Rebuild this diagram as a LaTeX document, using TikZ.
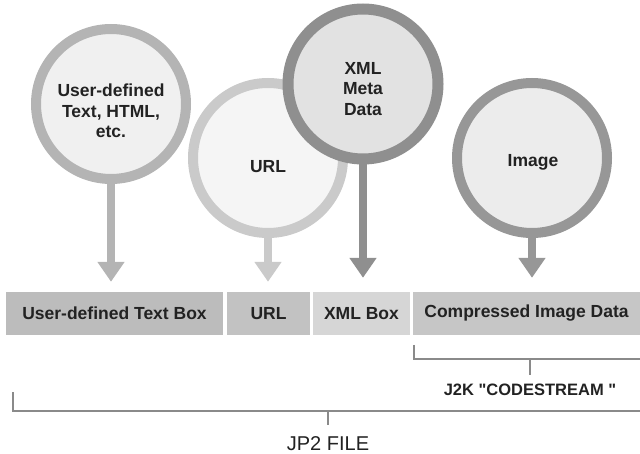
\documentclass[tikz,border=0pt]{standalone}
\usepackage{fontspec}
\setmainfont{Liberation Sans}
\newfontfamily\plainfont{Liberation Sans}
\usetikzlibrary{arrows.meta}
\definecolor{ringA}{HTML}{B4B4B4}
\definecolor{fillA}{HTML}{F0F0F0}
\definecolor{ringB}{HTML}{CACACA}
\definecolor{fillB}{HTML}{F5F5F5}
\definecolor{ringC}{HTML}{8F8F8F}
\definecolor{fillC}{HTML}{E2E2E2}
\definecolor{ringD}{HTML}{979797}
\definecolor{fillD}{HTML}{ECECEC}
\definecolor{boxA}{HTML}{BCBCBC}
\definecolor{boxB}{HTML}{C2C2C2}
\definecolor{boxC}{HTML}{D6D6D6}
\definecolor{boxD}{HTML}{C6C6C6}
\definecolor{txt}{HTML}{222222}
\definecolor{brk}{HTML}{8A8A8A}
\tikzset{
  bubble/.style={circle, line width=10pt, minimum size=150pt, inner sep=0pt},
  bubtext/.style={align=center, text=txt, inner sep=0pt,
    font=\fontsize{17.5}{20.5}\selectfont\bfseries},
  segbox/.style={rectangle, minimum height=43pt, inner sep=0pt, text=txt,
    font=\fontsize{17.5}{20}\selectfont\bfseries},
  stem/.style={line width=8pt, -{Triangle[width=26pt,length=20pt]}},
  bracket/.style={brk, line width=1.5pt},
  lbl/.style={text=txt, inner sep=0pt}
}
\begin{document}
\begin{tikzpicture}[x=1pt,y=-1pt]
\useasboundingbox (0,0) rectangle (640,454);
% boxes
\node[segbox, fill=boxA, minimum width=217pt] (b1) at (114.5,313.5) {User-defined Text Box};
\node[segbox, fill=boxB, minimum width=83pt] (b2) at (268.5,313.5) {URL};
\node[segbox, fill=boxC, minimum width=97pt] (b3) at (361.5,313.5) {XML Box};
\node[segbox, fill=boxD, minimum width=227pt] (b4) at (526.5,313.5) {Compressed Image Data};
% circles
\node[bubble, draw=ringA, fill=fillA] (c1) at (111,104) {};
\node[bubtext] (t1) at (111,111) {User-defined\\Text, HTML,\\etc.};
\node[bubble, draw=ringB, fill=fillB] (c2) at (268,158) {};
\node[bubtext] (t2) at (268,167) {URL};
\node[bubble, draw=ringC, fill=fillC, line width=11pt] (c3) at (363,84) {};
\node[bubtext] (t3) at (363,89) {XML\\Meta\\Data};
\node[bubble, draw=ringD, fill=fillD] (c4) at (532,158) {};
\node[bubtext] (t4) at (533,162) {Image};
% stems
\draw[stem, ringA, shorten >=10pt] (c1.south) -- (c1.south |- b1.north);
\draw[stem, ringB, shorten >=10pt] (c2.south) -- (c2.south |- b2.north);
\draw[stem, ringC, shorten >=14pt] (c3.south) -- (c3.south |- b3.north);
\draw[stem, ringD, shorten >=14pt] (c4.south) -- (c4.south |- b4.north);
% codestream bracket
\coordinate (csL) at (414,345);
\coordinate (csR) at (640,359);
\node[lbl, font=\fontsize{16.5}{19}\selectfont\plainfont\bfseries] (cs) at (530,390) {J2K "CODESTREAM "};
\draw[bracket] (csL) -- (csL |- csR) -- (csR);
\draw[bracket] (cs.north |- csR) -- ++(0,16);
% jp2 bracket
\coordinate (jpL) at (13,392);
\coordinate (jpR) at (640,411);
\node[lbl, font=\fontsize{20}{24}\selectfont] (jp) at (328,444) {JP2 FILE};
\draw[bracket] (jpL) -- (jpL |- jpR) -- (jpR);
\draw[bracket] (jp.north |- jpR) -- ++(0,14);
\end{tikzpicture}
\end{document}
